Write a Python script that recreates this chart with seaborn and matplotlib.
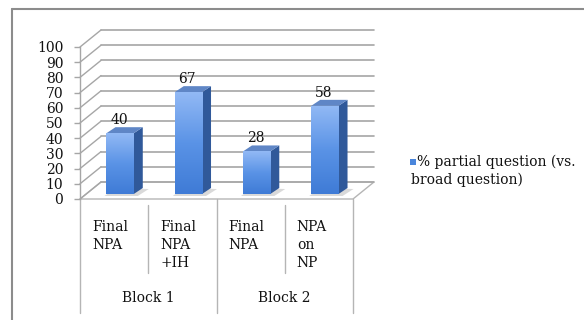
import numpy as np
import pandas as pd
import matplotlib
matplotlib.use("Agg")
import matplotlib.pyplot as plt
import matplotlib.transforms as mtransforms
from matplotlib.patches import Polygon, Rectangle
from matplotlib.colors import LinearSegmentedColormap
from matplotlib.lines import Line2D
import seaborn as sns

# ---- data -------------------------------------------------------------
categories = ["Final\nNPA", "Final\nNPA\n+IH", "Final\nNPA", "NPA\non\nNP"]
block_names = ["Block 1", "Block 2"]
block_of = [0, 0, 1, 1]
values = [40, 67, 28, 58]
series_label = "% partial question (vs.\nbroad question)"
y_ticks = list(range(0, 101, 10))

df = pd.DataFrame({"slot": list(range(len(values))), "value": values})

# ---- style ------------------------------------------------------------
sns.set_theme(style="white")
plt.rcParams["font.family"] = ["DejaVu Serif", "Liberation Serif"]
FS = 10
grid_c = "#a6a6a6"
line_c = "#b5b5b5"
front_dark, front_light = "#3f7bd6", "#92b9f5"
side_c = "#30599a"
top_c = "#5f86c6"
text_c = "#111111"

W, H = 584, 320
fig = plt.figure(figsize=(W / 100, H / 100), dpi=100)


def fx(p):
    return p / W


def fy(p):
    return 1 - p / H


ax = fig.add_axes([fx(80), fy(199), fx(353) - fx(80), fy(47) - fy(199)])
ax.set_facecolor("none")

sns.barplot(data=df, x="slot", y="value", color=front_dark, saturation=1,
            width=0.4, edgecolor="none", ax=ax, zorder=3)
ax.set_xlim(-0.5, len(values) - 0.5)
ax.set_ylim(0, 100)

# pixel -> data unit conversions
o = ax.transData.transform((0, 0))
sx = ax.transData.transform((1, 0))[0] - o[0]
sy = ax.transData.transform((0, 1))[1] - o[1]


def dxp(p):
    return p / sx


def dyp(p):
    return p / sy


bars = list(ax.patches)
x_lo, x_hi = -0.5, len(values) - 0.5
back_dx, back_dy = dxp(21), dyp(17)

# floor
floor = Polygon([(x_lo, 0), (x_hi, 0), (x_hi + back_dx, back_dy), (x_lo + back_dx, back_dy)],
                closed=True, facecolor="white", edgecolor=line_c, lw=1.0,
                clip_on=False, zorder=1)
ax.add_patch(floor)

# back wall gridlines and left wall diagonals
for v in y_ticks:
    ax.add_line(Line2D([x_lo + back_dx, x_hi + back_dx], [v + back_dy, v + back_dy],
                       color=grid_c, lw=1.2, clip_on=False, zorder=1))
    ax.add_line(Line2D([x_lo, x_lo + back_dx], [v, v + back_dy],
                       color=grid_c, lw=1.0, clip_on=False, zorder=1))

# 3-D bars
shift_dx, shift_dy = dxp(6), dyp(5)
depth_dx, depth_dy = dxp(9), dyp(6)
cmap = LinearSegmentedColormap.from_list("front", [front_dark, "#5a93e6", front_light])
grad = np.linspace(0, 1, 128).reshape(-1, 1)

for bar, v in zip(bars, values):
    bar.set_x(bar.get_x() + shift_dx)
    bar.set_y(bar.get_y() + shift_dy)
    x0 = bar.get_x()
    x1 = x0 + bar.get_width()
    y0 = bar.get_y()
    y1 = y0 + bar.get_height()
    # shadow on the floor
    ax.add_patch(Polygon([(x0 - dxp(2), y0 - dyp(2)), (x1 + dxp(4), y0 - dyp(2)),
                          (x1 + depth_dx + dxp(6), y0 + depth_dy - dyp(1)),
                          (x0 + depth_dx, y0 + depth_dy)],
                         closed=True, facecolor="#d9d9d9", edgecolor="none",
                         clip_on=False, zorder=2))
    im = ax.imshow(grad, extent=(x0, x1, y0, y1), origin="lower", cmap=cmap,
                   aspect="auto", interpolation="bilinear", zorder=3.5)
    im.set_clip_path(bar)
    ax.add_patch(Polygon([(x1, y0), (x1, y1), (x1 + depth_dx, y1 + depth_dy),
                          (x1 + depth_dx, y0 + depth_dy)],
                         closed=True, facecolor=side_c, edgecolor="none",
                         clip_on=False, zorder=3))
    ax.add_patch(Polygon([(x0, y1), (x1, y1), (x1 + depth_dx, y1 + depth_dy),
                          (x0 + depth_dx, y1 + depth_dy)],
                         closed=True, facecolor=top_c, edgecolor="none",
                         clip_on=False, zorder=3))
    ax.annotate(f"{v}", xy=((x0 + x1) / 2, y1), xytext=(-1, 13),
                textcoords="offset pixels", ha="center", va="center",
                fontsize=FS, color=text_c, annotation_clip=False)

ax.set_xlim(x_lo, x_hi)
ax.set_ylim(0, 100)
ax.set_aspect("auto")

# axes styling
for side in ["top", "right", "bottom"]:
    ax.spines[side].set_visible(False)
ax.spines["left"].set_color(grid_c)
ax.spines["left"].set_linewidth(1.0)
ax.set_yticks(y_ticks)
ax.set_yticklabels([str(t) for t in y_ticks])
ax.tick_params(axis="y", left=True, length=4, width=1.0, color=grid_c,
               labelsize=FS, pad=8, labelcolor=text_c)
ax.set_xticks([])
ax.set_xlabel("")
ax.set_ylabel("")
ax.grid(False)

# category table underneath
tb = mtransforms.blended_transform_factory(ax.transData, fig.transFigure)
for xb in [x_lo, 1.5, x_hi]:
    ax.add_line(Line2D([xb, xb], [fy(199), fy(313)], transform=tb, color=line_c,
                       lw=1.0, clip_on=False))
for xb in [0.5, 2.5]:
    ax.add_line(Line2D([xb, xb], [fy(205), fy(273)], transform=tb, color=line_c,
                       lw=1.0, clip_on=False))
for i, lab in enumerate(categories):
    ax.text(i - 0.5 + dxp(12), fy(220), lab, transform=tb, ha="left", va="top",
            fontsize=FS, linespacing=1.35, color=text_c)
for b, name in enumerate(block_names):
    idx = [i for i, bb in enumerate(block_of) if bb == b]
    ax.text(np.mean(idx), fy(298), name, transform=tb, ha="center", va="center",
            fontsize=FS, color=text_c)

# legend
lines = series_label.split("\n")
fig.add_artist(Rectangle((fx(410), fy(165)), fx(6), 6 / H, transform=fig.transFigure,
                         facecolor="#4a86dc", edgecolor="none"))
fig.text(fx(417), fy(162), lines[0], ha="left", va="center", fontsize=FS, color=text_c)
fig.text(fx(411), fy(180), lines[1], ha="left", va="center", fontsize=FS, color=text_c)

# chart frame
fig.add_artist(Line2D([fx(12), 1], [fy(9), fy(9)], transform=fig.transFigure,
                      color="#8c8c8c", lw=1.5))
fig.add_artist(Line2D([fx(12), fx(12)], [fy(9), 0], transform=fig.transFigure,
                      color="#8c8c8c", lw=1.5))

fig.savefig("out.png", dpi=100)
